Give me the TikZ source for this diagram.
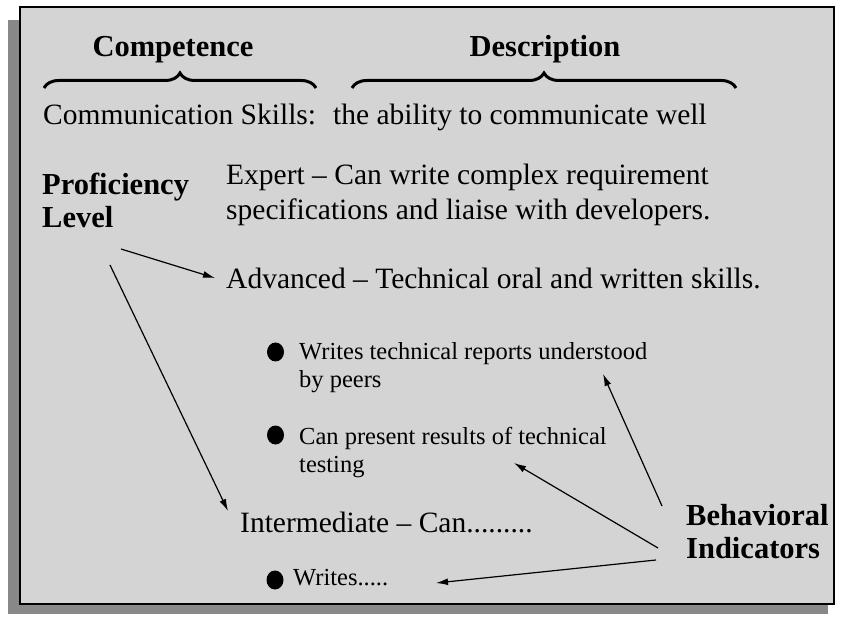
\documentclass[tikz,border=0pt]{standalone}
\usepackage{fontspec}
\setmainfont{Liberation Serif}
\usetikzlibrary{arrows.meta,positioning,calc,decorations.pathreplacing}
\definecolor{slidegray}{HTML}{D4D4D4}
\definecolor{shadowgray}{HTML}{888888}

\begin{document}
\begin{tikzpicture}[x=1pt,y=1pt,
    txt/.style={anchor=base west,inner sep=0pt,align=left,font=\fontsize{29.5}{35}\selectfont},
    head/.style={anchor=base,inner sep=0pt,font=\fontsize{30.5}{34}\selectfont\bfseries},
    side/.style={anchor=base west,inner sep=0pt,align=left,font=\fontsize{30.5}{33}\selectfont\bfseries},
    itm/.style={anchor=base west,inner sep=0pt,align=left,font=\fontsize{24.5}{28}\selectfont},
    arr/.style={-{Latex[length=12pt,width=7pt]},line width=1.2pt},
    brc/.style={decorate,decoration={brace,amplitude=15pt},line width=3pt}]
        \useasboundingbox (0,0) rectangle (842,616);
        \fill[shadowgray] (8,2) rectangle (828,596);
        \fill[slidegray] (20,12) rectangle (834,609);
        \draw[line width=2pt] (20,12) rectangle (834,609);

        \node[head] (comp) at (173,559) {Competence};
        \node[head] (desc) at (545,559) {Description};
        \draw[brc] (44,528) -- (316,528);
        \draw[brc] (352,528) -- (736,528);

        \node[txt] (skill) at (43,491) {Communication Skills:};
        \node[txt] (ability) at (333,491) {the ability to communicate well};
        \node[side] (prof) at (42,388) {Proficiency\\Level};
        \node[txt] (expert) at (226,396) {Expert -- Can write complex requirement\\specifications and liaise with developers.};
        \node[txt] (adv) at (226,327) {Advanced -- Technical oral and written skills.};

        \fill (275.5,264) ellipse (8.5 and 9.5);
        \node[itm] (reports) at (299,229) {Writes technical reports understood\\by peers};
        \fill (275.5,181) ellipse (8.5 and 9.5);
        \node[itm] (present) at (299,144) {Can present results of technical\\testing};
        \node[txt] (inter) at (240,84) {Intermediate -- Can.........};
        \fill (275,36) ellipse (8.5 and 9.5);
        \node[itm] (writes) at (293,31) {Writes.....};
        \node[side] (behav) at (686,58) {Behavioral\\Indicators};

        \draw[arr] ([shift={(79,-21)}]prof.base west) -- ([shift={(-11,11)}]adv.base west);
        \draw[arr] ([shift={(68,-37)}]prof.base west) -- ([shift={(-12,21)}]inter.base west);
        \draw[arr] ([shift={(-24,52)}]behav.base west) -- ([shift={(304,13)}]reports.base west);
        \draw[arr] ([shift={(-28,10)}]behav.base west) -- ([shift={(215,9)}]present.base west);
        \draw[arr] ([shift={(-30,-2)}]behav.base west) -- ([shift={(143,2)}]writes.base west);
\end{tikzpicture}
\end{document}
